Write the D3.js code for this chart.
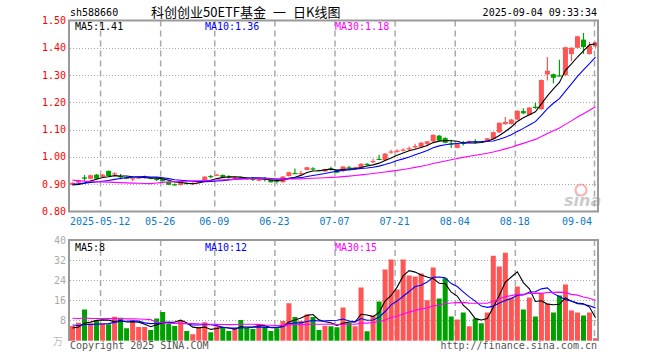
<!DOCTYPE html>
<html><head><meta charset="utf-8">
<script src="https://cdn.jsdelivr.net/npm/d3@7"></script>
<style>
body{margin:0;background:#fff}
svg{display:block}
text{font-family:"DejaVu Sans Mono",monospace;font-size:10px}
</style>
</head><body>
<svg id="chart" width="660" height="360"></svg>
<script>
// ---------------- data ----------------
const dates = ["2025-04-30","2025-05-06","2025-05-07","2025-05-08","2025-05-09","2025-05-12","2025-05-13","2025-05-14","2025-05-15","2025-05-16",
"2025-05-19","2025-05-20","2025-05-21","2025-05-22","2025-05-23","2025-05-26","2025-05-27","2025-05-28","2025-05-29","2025-05-30",
"2025-06-03","2025-06-04","2025-06-05","2025-06-06","2025-06-09","2025-06-10","2025-06-11","2025-06-12","2025-06-13","2025-06-16",
"2025-06-17","2025-06-18","2025-06-19","2025-06-20","2025-06-23","2025-06-24","2025-06-25","2025-06-26","2025-06-27","2025-06-30",
"2025-07-01","2025-07-02","2025-07-03","2025-07-04","2025-07-07","2025-07-08","2025-07-09","2025-07-10","2025-07-11","2025-07-14",
"2025-07-15","2025-07-16","2025-07-17","2025-07-18","2025-07-21","2025-07-22","2025-07-23","2025-07-24","2025-07-25","2025-07-28",
"2025-07-29","2025-07-30","2025-07-31","2025-08-01","2025-08-04","2025-08-05","2025-08-06","2025-08-07","2025-08-08","2025-08-11",
"2025-08-12","2025-08-13","2025-08-14","2025-08-15","2025-08-18","2025-08-19","2025-08-20","2025-08-21","2025-08-22","2025-08-25",
"2025-08-26","2025-08-27","2025-08-28","2025-08-29","2025-09-01","2025-09-02","2025-09-03","2025-09-04"];

const open = [0.898,0.906,0.925,0.920,0.935,0.927,0.949,0.938,0.930,0.925,
0.918,0.921,0.925,0.924,0.920,0.920,0.909,0.900,0.897,0.905,
0.900,0.905,0.910,0.930,0.932,0.934,0.928,0.922,0.926,0.925,
0.920,0.914,0.922,0.918,0.913,0.907,0.930,0.941,0.939,0.952,
0.958,0.952,0.947,0.958,0.952,0.948,0.962,0.958,0.962,0.975,
0.982,0.993,0.988,1.018,1.020,1.024,1.028,1.035,1.037,1.048,
1.057,1.078,1.069,1.050,1.033,1.052,1.055,1.058,1.057,1.056,
1.066,1.090,1.120,1.121,1.137,1.168,1.154,1.184,1.175,1.302,
1.303,1.299,1.299,1.377,1.400,1.430,1.377,1.405];

const high = [0.907,0.916,0.934,0.935,0.937,0.937,0.950,0.944,0.937,0.927,
0.925,0.927,0.932,0.926,0.922,0.922,0.910,0.903,0.909,0.907,
0.907,0.912,0.929,0.934,0.937,0.936,0.933,0.927,0.927,0.926,
0.926,0.919,0.926,0.919,0.916,0.930,0.946,0.958,0.949,0.963,
0.962,0.953,0.957,0.964,0.953,0.966,0.968,0.964,0.977,0.977,
0.993,1.008,1.014,1.026,1.028,1.032,1.038,1.048,1.055,1.058,
1.082,1.080,1.072,1.063,1.048,1.058,1.060,1.065,1.058,1.069,
1.092,1.126,1.147,1.139,1.171,1.178,1.183,1.199,1.284,1.366,
1.306,1.356,1.404,1.402,1.444,1.454,1.422,1.422];

const low = [0.896,0.904,0.912,0.918,0.918,0.925,0.928,0.933,0.918,0.918,
0.912,0.919,0.922,0.918,0.912,0.909,0.897,0.894,0.895,0.899,
0.897,0.904,0.909,0.922,0.930,0.922,0.920,0.921,0.921,0.917,
0.912,0.912,0.910,0.906,0.903,0.906,0.928,0.938,0.933,0.951,
0.950,0.948,0.945,0.950,0.940,0.944,0.955,0.956,0.960,0.968,
0.977,0.990,0.985,1.012,1.015,1.020,1.022,1.030,1.035,1.038,
1.055,1.058,1.050,1.033,1.032,1.042,1.053,1.048,1.053,1.055,
1.064,1.088,1.118,1.119,1.135,1.156,1.152,1.177,1.173,1.280,
1.270,1.295,1.297,1.352,1.398,1.377,1.375,1.400];

const close = [0.905,0.914,0.920,0.933,0.920,0.935,0.930,0.940,0.925,0.920,
0.922,0.925,0.929,0.920,0.915,0.912,0.898,0.897,0.908,0.902,
0.904,0.910,0.928,0.926,0.935,0.924,0.925,0.925,0.923,0.918,
0.918,0.917,0.918,0.907,0.910,0.928,0.944,0.939,0.941,0.962,
0.955,0.950,0.955,0.955,0.943,0.965,0.960,0.962,0.975,0.973,
0.985,0.991,1.012,1.020,1.023,1.027,1.032,1.040,1.052,1.057,
1.081,1.060,1.052,1.047,1.047,1.050,1.058,1.055,1.055,1.068,
1.091,1.125,1.128,1.137,1.169,1.160,1.181,1.179,1.282,1.316,
1.290,1.297,1.402,1.400,1.442,1.403,1.407,1.420];

// volume, 万
const volume = [5.6,6.9,12.2,6.7,7.8,6.7,6.3,9.3,8.9,4.7,
7.6,5.2,5.2,4.0,8.6,11.2,6.5,5.6,7.7,3.6,
2.3,5.1,7.1,3.1,5.4,4.8,3.6,4.8,8.0,4.9,
4.4,6.3,5.4,3.6,4.7,7.6,14.7,9.2,7.6,10.2,
9.2,4.0,5.6,5.5,5.1,13.0,6.9,5.5,21.0,3.5,
9.8,15.4,28.2,32.2,20.2,32.2,25.8,25.4,26.6,15.9,
29.0,16.6,24.7,9.4,8.2,11.0,5.5,8.6,6.7,11.0,
33.7,29.4,34.9,17.0,21.4,12.2,17.0,9.4,18.6,14.6,
11.0,17.8,22.2,11.8,11.0,9.8,11.0,0.7];

// sessions before the visible window (needed for the moving averages at the left edge)
const priorClose = [0.978,0.971,0.965,0.953,0.951,0.958,0.961,0.955,0.948,0.949,
0.945,0.948,0.935,0.840,0.852,0.860,0.872,0.870,0.875,0.864,
0.895,0.898,0.905,0.908,0.909,0.902,0.897,0.893,0.888];
const priorVolume = [9,8,10,9,8,7,9,8,9,8,
7,7,9,40,18,12,8,6,5,4,
9,8,7,6,6,5,4.5,4.6,4.3];

const priceTicks = [0.80,0.90,1.00,1.10,1.20,1.30,1.40,1.50];
const volTicks = [8,16,24,32,40];
const tickDates  = ["2025-05-12","2025-05-26","2025-06-09","2025-06-23","2025-07-07","2025-07-21","2025-08-04","2025-08-18","2025-09-04"];
const tickLabels = ["2025-05-12","05-26","06-09","06-23","07-07","07-21","08-04","08-18","09-04"];

const maPeriods = [5,10,30];
const maColors = ["#000000","#0000ff","#ff00ff"];
const priceLegend = ["MA5:1.41","MA10:1.36","MA30:1.18"];
const volLegend = ["MA5:8","MA10:12","MA30:15"];

const symbol = "sh588660";
const titleParts = ["科创创业50ETF基金", "一", "日K线图"];
const stamp = "2025-09-04 09:33:34";

// ---------------- layout ----------------
const svg = d3.select("#chart");
const L = 70, R = 598;
const pTop = 20.5, pBot = 211.5;
const vTop = 240, vBot = 340;
const UP = "#ff5555", DOWN = "#00a000";
const GRID = "#aaaaaa", BORDER = "#999999";

const x = d3.scaleBand().domain(dates).range([L, R]).paddingInner(1/6).paddingOuter(0).align(0);
const xb = d => x(d) - (x.step() - x.bandwidth()) * 0; // band left edge
const xc = i => x(dates[i]) + x.bandwidth() / 2;
const y = d3.scaleLinear().domain([0.80, 1.50]).range([pBot, pTop]);
const yv = d3.scaleLinear().domain([0, 40]).range([vBot, vTop]);

function movingAvg(prior, arr, n) {
  const all = prior.concat(arr);
  return arr.map((_, i) => d3.mean(all.slice(prior.length + i - n + 1, prior.length + i + 1)));
}

// ---------------- header ----------------
svg.append("text").attr("x", 70).attr("y", 16).attr("fill", "#000").text(symbol);
const tt = svg.append("text").attr("y", 17).attr("fill", "#000")
  .style("font-family", '"Noto Sans CJK SC","DejaVu Sans",sans-serif').style("font-size", "13px");
tt.append("tspan").attr("x", 151).text(titleParts[0]);
tt.append("tspan").attr("dx", 7).text(titleParts[1]);
tt.append("tspan").attr("dx", 7).text(titleParts[2]);
svg.append("text").attr("x", 597).attr("y", 16).attr("text-anchor", "end").attr("fill", "#000").text(stamp);

// ---------------- grids ----------------
const g = svg.append("g");
g.selectAll(".hp").data(priceTicks.filter(t => t > 0.8 + 1e-9 && t < 1.5 - 1e-9)).join("line")
  .attr("x1", L).attr("x2", R).attr("y1", d => Math.round(y(d)) + 0.5).attr("y2", d => Math.round(y(d)) + 0.5)
  .attr("stroke", GRID).attr("stroke-dasharray", "1,2");
g.selectAll(".hv").data(volTicks.filter(t => t < 40)).join("line")
  .attr("x1", L).attr("x2", R).attr("y1", d => yv(d) + 0.5).attr("y2", d => yv(d) + 0.5)
  .attr("stroke", GRID).attr("stroke-dasharray", "1,2");
tickDates.forEach(d => {
  const xx = xb(d) + (d === dates[dates.length - 1] ? 1.5 : 0.5);
  g.append("line").attr("x1", xx).attr("x2", xx).attr("y1", pTop).attr("y2", pBot)
    .attr("stroke", GRID).attr("stroke-width", 1.5).attr("stroke-dasharray", "6,4");
  g.append("line").attr("x1", xx).attr("x2", xx).attr("y1", vTop).attr("y2", vBot)
    .attr("stroke", GRID).attr("stroke-width", 1.5).attr("stroke-dasharray", "6,4");
});

// watermark
const wm = svg.append("g").attr("opacity", 0.5);
wm.append("circle").attr("cx", 581).attr("cy", 190).attr("r", 5.5).attr("fill", "none").attr("stroke", "#f07070").attr("stroke-width", 2.2);
wm.append("text").attr("x", 564).attr("y", 206).attr("fill", "#999")
  .style("font-family", '"DejaVu Sans",sans-serif').style("font-size", "16px").style("font-weight", "bold").style("font-style", "italic").text("sina");

// ---------------- candles ----------------
svg.append("clipPath").attr("id", "cp").append("rect").attr("x", L).attr("y", pTop - 1).attr("width", R - L).attr("height", pBot - pTop + 1);
const cg = svg.append("g").attr("clip-path", "url(#cp)");
const idx = d3.range(dates.length);
const col = i => close[i] >= open[i] ? UP : DOWN;
cg.selectAll(".wick").data(idx).join("line")
  .attr("x1", i => xc(i)).attr("x2", i => xc(i))
  .attr("y1", i => y(high[i])).attr("y2", i => y(low[i]))
  .attr("stroke", col).attr("stroke-width", 1.2);
cg.selectAll(".body").data(idx).join("rect")
  .attr("x", i => x(dates[i])).attr("width", x.bandwidth())
  .attr("y", i => y(Math.max(open[i], close[i])))
  .attr("height", i => Math.max(1.2, Math.abs(y(open[i]) - y(close[i]))))
  .attr("fill", col);

maPeriods.forEach((n, k) => {
  const m = movingAvg(priorClose, close, n);
  cg.append("path").datum(m)
    .attr("d", d3.line().x((d, i) => xc(i)).y(d => y(d)))
    .attr("fill", "none").attr("stroke", maColors[k]).attr("stroke-width", 1.1);
});

// ---------------- volume ----------------
svg.append("clipPath").attr("id", "cv").append("rect").attr("x", L).attr("y", vTop).attr("width", R - L).attr("height", vBot - vTop + 1);
const vg = svg.append("g").attr("clip-path", "url(#cv)");
vg.selectAll(".vb").data(idx).join("rect")
  .attr("x", i => x(dates[i])).attr("width", x.bandwidth())
  .attr("y", i => yv(volume[i])).attr("height", i => vBot - yv(volume[i]) + 0.7)
  .attr("fill", col);
maPeriods.forEach((n, k) => {
  const m = movingAvg(priorVolume, volume, n);
  vg.append("path").datum(m)
    .attr("d", d3.line().x((d, i) => xc(i)).y(d => yv(d)))
    .attr("fill", "none").attr("stroke", maColors[k]).attr("stroke-width", 1.1);
});

// ---------------- borders ----------------
const bd = svg.append("g").attr("stroke", BORDER).attr("stroke-width", 2);
bd.append("rect").attr("x", L - 1).attr("y", pTop).attr("width", R - L + 1).attr("height", pBot - pTop).attr("fill", "none");
bd.append("line").attr("x1", L - 1).attr("x2", L - 1).attr("y1", vTop).attr("y2", vBot + 1);
bd.append("line").attr("x1", R).attr("x2", R).attr("y1", vTop).attr("y2", vBot + 1);
bd.append("line").attr("x1", L - 2).attr("x2", R + 1).attr("y1", vTop).attr("y2", vTop);

// ---------------- axes labels ----------------
svg.append("g").selectAll("text").data(priceTicks).join("text")
  .attr("x", 66).attr("y", d => y(d) + 3.5).attr("text-anchor", "end").attr("fill", "#ff0000")
  .text(d3.format(".2f"));
svg.append("g").selectAll("text").data(volTicks).join("text")
  .attr("x", 66).attr("y", d => yv(d) + 3.5).attr("text-anchor", "end").attr("fill", "#aaaaaa")
  .text(d => d);
svg.append("text").attr("x", 53).attr("y", 345).attr("fill", "#bbbbbb")
  .style("font-family", '"Noto Sans CJK SC",sans-serif').style("font-size", "10px").text("万");

tickDates.forEach((d, k) => {
  const xx = x(d);
  const last = k === tickDates.length - 1;
  const anchor = k === 0 ? "start" : (last ? "end" : "middle");
  const px = k === 0 ? L : (last ? xx - 1 : xx);
  svg.append("text").attr("x", px).attr("y", 225).attr("text-anchor", anchor)
    .attr("fill", "#0b78c8").text(tickLabels[k]);
});

// legends
const legX = [75, 205, 335];
priceLegend.forEach((t, k) => svg.append("text").attr("x", legX[k]).attr("y", 30).attr("fill", maColors[k]).text(t));
volLegend.forEach((t, k) => svg.append("text").attr("x", legX[k]).attr("y", 251).attr("fill", maColors[k]).text(t));

// footer
svg.append("text").attr("x", 70).attr("y", 349).attr("fill", "#555").text("Copyright 2025 SINA.COM");
svg.append("text").attr("x", 597).attr("y", 349).attr("text-anchor", "end").attr("fill", "#555").text("http://finance.sina.com.cn");
</script>
</body></html>
